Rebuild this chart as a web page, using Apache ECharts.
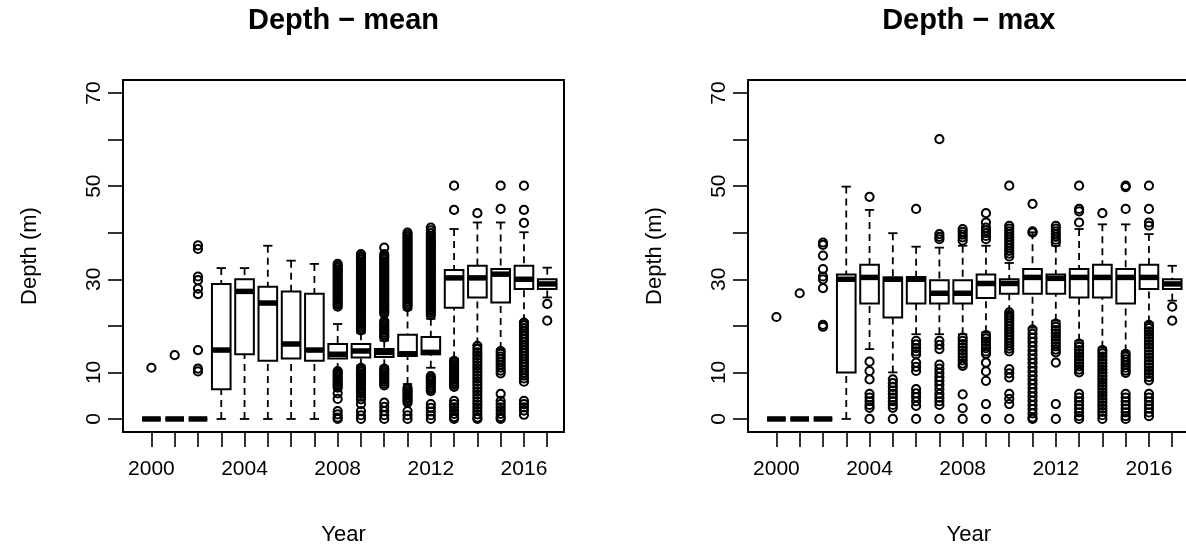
<!DOCTYPE html>
<html><head><meta charset="utf-8">
<script src="https://cdn.jsdelivr.net/npm/echarts@6/dist/echarts.min.js"></script>
<style>html,body{margin:0;background:#fff}#c{width:1186px;height:550px}</style>
</head><body><div id="c"></div>
<script>
// ---------- DATA ----------
const years = [2000,2001,2002,2003,2004,2005,2006,2007,2008,2009,2010,2011,2012,2013,2014,2015,2016,2017];
const xLabelYears = [2000,2004,2008,2012,2016];
const yTicks = [0,10,20,30,40,50,60,70];
const yLabels = [0,10,30,50,70];

// Depth - mean
const meanLow  = [0,0,0,0,0,0,0,0,10.5,11.5,11.3,7.5,11.0,13.0,16.0,15.0,21.0,26.1];
const meanQ1   = [0,0,0,6.4,13.9,12.5,13.0,12.5,13.0,13.2,13.3,13.5,13.9,23.9,26.1,25.0,27.9,27.9];
const meanMed  = [0,0,0,14.8,27.4,24.9,16.1,14.8,13.9,14.6,14.3,14.0,14.3,30.3,30.3,31.1,30.0,29.0];
const meanQ3   = [0,0,0,29.0,30.0,28.4,27.4,26.9,16.1,16.1,15.0,18.1,17.6,32.0,32.9,32.2,32.9,30.0];
const meanHigh = [0,0,0,32.4,32.4,37.2,34.0,33.3,20.4,18.4,16.8,23.5,21.5,40.8,42.2,42.2,40.1,32.5];
const meanOut = [
  [11.0],
  [13.7],
  [37.3,36.5,30.6,29.8,28.0,26.8,14.8,10.8,10.2],
  [],[],[],[],[],
  [33.3,32.9,32.5,32.1,31.7,31.3,30.9,30.5,30.1,29.7,29.3,28.9,28.5,28.1,27.7,27.3,26.9,26.5,26.1,25.7,25.3,24.9,24.5,24.1,
   10.3,9.9,9.5,9.1,8.7,8.3,7.9,7.5,7.1,6.7,5.5,4.3,1.7,1.0,0.3,0],
  [35.4,35.0,34.6,34.2,33.8,33.4,33.0,32.6,32.2,31.8,31.4,31.0,30.6,30.2,29.8,29.4,29.0,28.6,28.2,27.8,27.4,27.0,26.6,26.2,25.8,25.4,25.0,24.6,24.2,23.8,23.4,23.0,22.6,22.2,21.8,21.4,21.0,20.6,20.2,19.8,19.4,19.0,
   11.0,10.6,10.2,9.8,9.4,9.0,8.6,8.2,7.8,7.4,7.0,6.6,6.2,5.8,5.4,4.8,4.2,3.2,1.7,0.8,0],
  [36.8,35.4,35.0,34.6,34.2,33.8,33.4,33.0,32.6,32.2,31.8,31.4,31.0,30.6,30.2,29.8,29.4,29.0,28.6,28.2,27.8,27.4,27.0,26.6,26.2,25.8,25.4,25.0,24.6,24.2,23.8,23.4,23.0,22.6,
   21.0,20.6,20.2,19.8,19.4,19.0,18.6,18.2,17.8,17.5,
   10.8,10.4,10.0,9.6,9.2,8.8,8.4,8.0,7.6,7.2,3.5,2.6,1.7,0.8,0],
  [40.0,39.6,39.2,38.8,38.4,38.0,37.6,37.2,36.8,36.4,36.0,35.6,35.2,34.8,34.4,34.0,33.6,33.2,32.8,32.4,32.0,31.6,31.2,30.8,30.4,30.0,29.6,29.2,28.8,28.4,28.0,27.6,27.2,26.8,26.4,26.0,25.6,25.2,24.8,24.4,24.0,
   6.7,6.3,5.9,5.5,5.1,4.7,4.3,3.9,3.5,1.7,0.8,0],
  [41.1,40.5,39.9,39.3,38.8,38.4,38.0,37.6,37.2,36.8,36.4,36.0,35.6,35.2,34.8,34.4,34.0,33.6,33.2,32.8,32.4,32.0,31.6,31.2,30.8,30.4,30.0,29.6,29.2,28.8,28.4,28.0,27.6,27.2,26.8,26.4,26.0,25.6,25.2,24.8,24.4,24.0,23.6,23.2,22.8,22.3,
   9.2,8.8,8.4,8.0,7.6,7.2,6.8,6.4,6.0,3.2,2.4,1.6,0.8,0],
  [50.1,44.9,12.5,12.1,11.7,11.3,10.9,10.5,10.1,9.7,9.3,8.9,8.5,8.1,7.7,7.3,6.9,3.9,3.2,2.5,1.8,1.1,0.4,0],
  [44.2,15.7,15.0,14.3,13.6,12.9,12.2,11.5,10.8,10.1,9.4,8.7,8.0,7.3,6.6,5.9,5.2,4.5,3.8,3.1,2.4,1.7,1.0,0.3,0],
  [50.1,45.1,14.6,14.0,13.4,12.8,12.2,11.6,11.0,10.4,9.8,5.4,3.9,3.2,2.5,1.8,1.1,0.4,0],
  [50.1,44.9,42.1,20.7,20.1,19.5,18.9,18.3,17.7,17.1,16.5,15.9,15.3,14.7,14.1,13.5,12.9,12.3,11.7,11.1,10.5,9.9,9.3,8.7,8.0,
   3.9,3.2,2.5,1.8,0.9],
  [24.7,21.1]
];

// Depth - max
const maxLow  = [0,0,0,0,15.0,10.0,18.2,18.2,18.2,18.6,22.9,19.6,21.1,16.8,15.3,14.5,20.7,25.4];
const maxQ1   = [0,0,0,10.0,24.8,21.8,24.8,24.8,24.8,26.0,26.9,26.9,26.9,26.1,26.1,24.8,27.9,27.9];
const maxMed  = [0,0,0,30.0,30.4,30.0,30.0,27.0,27.0,29.1,29.1,30.4,30.2,30.4,30.4,30.4,30.4,29.0];
const maxQ3   = [0,0,0,31.0,33.1,30.4,30.5,29.8,29.8,31.0,30.0,32.2,31.0,32.2,33.1,32.2,33.1,30.0];
const maxHigh = [0,0,0,49.9,44.9,39.9,37.0,36.8,37.2,37.2,33.5,40.1,37.2,40.8,41.8,41.8,39.7,32.9];
const maxOut = [
  [21.9],
  [27.0],
  [37.9,37.4,35.1,32.2,30.6,30.0,28.1,20.2,19.8],
  [],
  [47.7,12.3,10.3,8.5,5.4,4.6,3.8,3.0,2.4,0],
  [8.5,7.7,6.9,6.1,5.4,4.6,3.8,3.0,2.4,0],
  [45.1,16.8,16.0,15.2,14.5,13.9,12.1,11.2,10.3,6.4,5.5,4.7,3.8,2.8,0],
  [60.1,39.7,39.1,38.6,16.8,15.9,15.0,11.7,10.8,9.9,9.0,8.2,7.3,6.4,5.4,4.6,3.8,3.0,0],
  [40.8,40.2,39.6,39.0,38.3,17.5,16.8,16.1,15.4,14.7,14.0,13.3,12.6,11.9,11.4,5.3,2.3,0],
  [44.2,42.2,41.1,40.5,39.9,39.3,38.6,18.0,17.3,16.6,15.9,15.2,14.5,14.0,12.1,10.2,8.2,3.2,0],
  [50.1,41.5,40.9,40.3,39.7,39.1,38.5,37.9,37.3,36.7,36.1,35.5,34.9,22.9,22.3,21.7,21.1,20.5,19.9,19.3,18.7,18.1,17.5,16.9,16.3,15.7,15.1,14.5,10.7,9.8,8.9,5.4,4.3,3.2,0],
  [46.2,40.3,40.0,19.2,18.3,17.4,16.5,15.6,14.7,13.8,12.9,12.0,11.1,10.2,9.3,8.4,7.5,6.6,5.7,4.8,3.9,3.0,2.1,1.2,0.3,0],
  [41.5,40.9,40.3,39.7,39.1,38.5,37.9,20.5,19.8,19.1,18.4,17.7,17.0,16.3,15.6,14.9,14.3,12.1,3.2,0],
  [50.1,45.1,44.6,42.2,16.2,15.5,14.8,14.1,13.4,12.7,12.0,11.3,10.6,10.0,5.4,4.6,3.8,3.0,2.2,1.4,0.6,0],
  [44.2,14.8,14.1,13.4,12.7,12.0,11.3,10.6,9.9,9.2,8.5,7.8,7.1,6.4,5.7,5.0,4.3,3.6,2.9,2.2,1.5,0.8,0],
  [50.1,49.8,45.1,14.0,13.4,12.8,12.2,11.6,11.0,10.4,9.9,5.4,4.6,3.8,3.0,2.2,1.4,0.6,0],
  [50.1,45.1,42.2,41.5,20.2,19.5,18.8,18.1,17.4,16.7,16.0,15.3,14.6,13.9,13.2,12.5,11.8,11.1,10.4,9.7,9.0,8.3,5.4,4.6,3.8,3.0,2.2,1.4,0.6],
  [24.1,21.1]
];

// ---------- CHART ----------
const FONT = '"Liberation Sans", Arial, Helvetica, sans-serif';
const chart = echarts.init(document.getElementById('c'), null, {renderer: 'canvas'});
const positions = years.map((y, i) => i + 1);
const labelPositions = xLabelYears.map(y => years.indexOf(y) + 1);

function boxSeries(idx, low, q1, med, q3, high) {
  const data = years.map((y, i) => [i + 1, low[i], q1[i], med[i], q3[i], high[i]]);
  return {
    type: 'custom', xAxisIndex: idx, yAxisIndex: idx, data: data, z: 2, silent: true,
    encode: {x: 0, y: [1, 2, 3, 4, 5]},
    renderItem: function (params, api) {
      const x = api.value(0);
      const lo = api.value(1), a = api.value(2), m = api.value(3), b = api.value(4), hi = api.value(5);
      const P = (xx, yy) => api.coord([xx, yy]);
      const dash = {stroke: '#000', lineWidth: 1.8, lineDash: [7, 5], fill: null};
      const solid = {stroke: '#000', lineWidth: 1.8, fill: null};
      const ch = [];
      const line = (p1, p2, st) => ch.push({type: 'line', shape: {x1: p1[0], y1: p1[1], x2: p2[0], y2: p2[1]}, style: st});
      line(P(x, hi), P(x, b), dash);
      line(P(x, lo), P(x, a), dash);
      line(P(x - 0.2, hi), P(x + 0.2, hi), solid);
      line(P(x - 0.2, lo), P(x + 0.2, lo), solid);
      const tl = P(x - 0.4, b), br = P(x + 0.4, a);
      ch.push({type: 'rect', shape: {x: tl[0], y: tl[1], width: br[0] - tl[0], height: br[1] - tl[1]},
        style: {fill: '#fff', stroke: '#000', lineWidth: 2}});
      line(P(x - 0.4, m), P(x + 0.4, m), {stroke: '#000', lineWidth: 5.5, fill: null});
      return {type: 'group', children: ch};
    }
  };
}

function outSeries(idx, outs) {
  const data = [];
  outs.forEach((arr, i) => arr.forEach(v => data.push([i + 1, v])));
  return {
    type: 'scatter', xAxisIndex: idx, yAxisIndex: idx, data: data, z: 3, silent: true,
    symbol: 'circle', symbolSize: 8.2,
    itemStyle: {color: 'rgba(0,0,0,0)', borderColor: '#000', borderWidth: 2, opacity: 1}
  };
}

function xAxis(idx) {
  return {
    gridIndex: idx, type: 'value', min: -0.22, max: 18.72,
    axisLine: {show: false, onZero: false}, splitLine: {show: false},
    axisTick: {show: true, length: 15, customValues: positions, lineStyle: {color: '#000', width: 1.6}},
    axisLabel: {show: true, customValues: labelPositions, formatter: v => String(years[Math.round(v) - 1]),
      fontSize: 21, color: '#000', fontFamily: FONT, margin: 27}
  };
}
function yAxis(idx) {
  return {
    gridIndex: idx, type: 'value', min: -2.8, max: 72.8,
    axisLine: {show: false, onZero: false}, splitLine: {show: false},
    axisTick: {show: true, length: 15, customValues: yTicks, lineStyle: {color: '#000', width: 1.6}},
    axisLabel: {show: true, customValues: yLabels, rotate: 90, fontSize: 21, color: '#000', fontFamily: FONT, margin: 18}
  };
}

function txt(x, y, text, size, bold, rot) {
  return {type: 'text', x: x, y: y, rotation: rot || 0, silent: true,
    style: {text: text, fontSize: size, fontWeight: bold ? 'bold' : 'normal', fontFamily: FONT,
      fill: '#000', align: 'center', verticalAlign: 'middle'}};
}

const gridBase = {top: 80, width: 441, height: 352, show: true, borderColor: '#000', borderWidth: 2,
  backgroundColor: 'transparent', containLabel: false, outerBoundsMode: 'none'};

const option = {
  animation: false,
  backgroundColor: '#fff',
  grid: [
    Object.assign({left: 123}, gridBase),
    Object.assign({left: 748}, gridBase)
  ],
  xAxis: [xAxis(0), xAxis(1)],
  yAxis: [yAxis(0), yAxis(1)],
  series: [
    boxSeries(0, meanLow, meanQ1, meanMed, meanQ3, meanHigh),
    outSeries(0, meanOut),
    boxSeries(1, maxLow, maxQ1, maxMed, maxQ3, maxHigh),
    outSeries(1, maxOut)
  ],
  graphic: [
    txt(343.5, 21, 'Depth \u2212 mean', 29, true),
    txt(968.8, 21, 'Depth \u2212 max', 29, true),
    txt(343.5, 535, 'Year', 22, false),
    txt(968.8, 535, 'Year', 22, false),
    txt(30, 256, 'Depth (m)', 22, false, Math.PI / 2),
    txt(655, 256, 'Depth (m)', 22, false, Math.PI / 2)
  ]
};
chart.setOption(option);
</script>
</body></html>
